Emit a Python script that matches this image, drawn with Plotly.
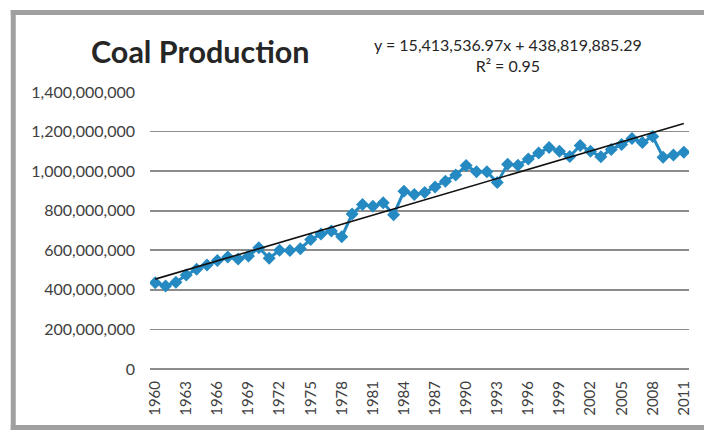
import plotly.graph_objects as go

years = list(range(1960, 2012))
production = [
    436e6, 420e6, 439e6, 475e6, 504e6, 526e6, 548e6, 566e6, 556e6, 571e6,
    613e6, 560e6, 600e6, 599e6, 608e6, 654e6, 682e6, 697e6, 668e6, 783e6,
    832e6, 822e6, 840e6, 780e6, 898e6, 882e6, 892e6, 920e6, 949e6, 980e6,
    1028e6, 997e6, 997e6, 942e6, 1035e6, 1030e6, 1062e6, 1092e6, 1120e6, 1100e6,
    1074e6, 1130e6, 1100e6, 1073e6, 1110e6, 1135e6, 1165e6, 1145e6, 1175e6, 1070e6,
    1082e6, 1096e6,
]
slope = 15413536.97
intercept = 438819885.29
title_text = "Coal Production"
equation_text = "y = 15,413,536.97x + 438,819,885.29<br>R\u00b2 = 0.95"
y_ticks = [0, 200e6, 400e6, 600e6, 800e6, 1000e6, 1200e6, 1400e6]
x_ticks = list(range(1960, 2012, 3))

trend = [slope * (i + 1) + intercept for i in range(len(years))]

W, H = 704, 430
L, R, T, B = 150, 12, 92, 61
pw, ph = W - L - R, H - T - B


def px(x):
    return (x - L) / pw


def py(y):
    return (H - B - y) / ph


FONT = "Lato"
fig = go.Figure()
fig.add_trace(go.Scatter(
    x=years, y=production, mode="lines+markers",
    line=dict(color="#2589c2", width=3),
    marker=dict(symbol="diamond", size=10, color="#2589c2"),
    showlegend=False,
))
fig.add_trace(go.Scatter(
    x=years, y=trend, mode="lines",
    line=dict(color="#111111", width=1.6),
    showlegend=False,
))

fig.update_layout(
    width=W, height=H,
    margin=dict(l=L, r=R, t=T, b=B),
    paper_bgcolor="white", plot_bgcolor="white",
    font=dict(family=FONT, color="#404040"),
    xaxis=dict(
        range=[1959.5, 2011.5], tickvals=x_ticks, ticktext=[str(v) for v in x_ticks],
        tickangle=-90, showgrid=False, zeroline=False, showline=False,
        tickfont=dict(size=15, color="#404040", family=FONT),
        ticklabelstandoff=8, fixedrange=True,
    ),
    yaxis=dict(
        range=[0, 1400e6], tickvals=y_ticks, tickformat=",d",
        showgrid=True, gridcolor="#8c8c8c", gridwidth=1.6,
        zeroline=True, zerolinecolor="#8c8c8c", zerolinewidth=1.6,
        tickfont=dict(size=16, color="#404040", family=FONT),
        ticklabelstandoff=14, fixedrange=True,
    ),
    shapes=[
        dict(type="line", xref="paper", yref="paper",
             x0=px(12.5), x1=px(12.5), y0=py(10), y1=py(430), line=dict(color="#a0a0a0", width=5)),
        dict(type="line", xref="paper", yref="paper",
             x0=px(10), x1=px(710), y0=py(12.5), y1=py(12.5), line=dict(color="#a0a0a0", width=5)),
        dict(type="line", xref="paper", yref="paper",
             x0=px(10), x1=px(710), y0=py(427.5), y1=py(427.5), line=dict(color="#a0a0a0", width=5)),
    ],
    annotations=[
        dict(text="<b>" + title_text + "</b>", xref="paper", yref="paper",
             x=px(89), y=py(51), xanchor="left", yanchor="middle", showarrow=False,
             font=dict(size=30.5, color="#262626", family=FONT)),
        dict(text=equation_text, xref="paper", yref="paper",
             x=px(510), y=py(55), xanchor="center", yanchor="middle", showarrow=False,
             align="center", font=dict(size=16, color="#262626", family=FONT)),
    ],
)

fig.write_html(
    "out.html",
    config={"displayModeBar": False, "staticPlot": True},
    post_script="document.body.style.margin='0';document.body.style.overflow='hidden';",
)
